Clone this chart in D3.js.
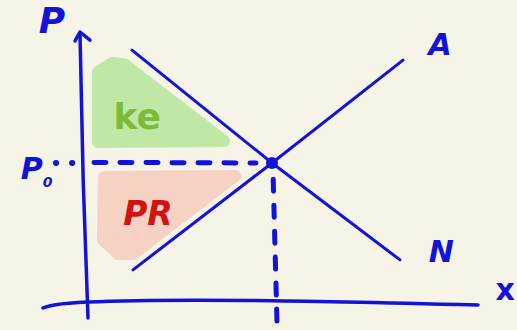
<!DOCTYPE html>
<html>
<head>
<meta charset="utf-8">
<script src="https://cdn.jsdelivr.net/npm/d3@7"></script>
<style>
  html, body { margin: 0; padding: 0; background: #f6f3e7; }
  svg { display: block; }
  text { font-family: "DejaVu Sans", sans-serif; font-weight: bold; }
</style>
</head>
<body>
<svg id="chart" width="517" height="330"></svg>
<script>
// ---- data (quantity q, price p) ----
const demandQ = [11, 46, 78];
const demandP = [93.3, 51.5, 15.6];
const supplyQ = [11.25, 46, 78.75];
const supplyP = [11.9, 51.5, 89.6];
const eqQ = 46;
const eqP = 51.5;
const consumerQ = [2.5, 6, 9, 34, 2.5];
const consumerP = [85.2, 88.5, 88.1, 59.6, 59.3];
const producerQ = [4, 36.75, 11.25, 7.5, 3.75];
const producerP = [46.3, 46.7, 17.8, 17.8, 23];
const yAxisQ = [-2, -1.2, 0];
const yAxisP = [99.3, 45, -5.9];
const arrowQ = [-3.25, -2, 0.5];
const arrowP = [96.7, 100, 97];
const xAxisQ = [-11.25, 0, 40, 97.5];
const xAxisP = [-2.2, 0, 0.6, -1.1];
const labels = ["P", "x", "A", "N", "ke", "PR", "P", "0"];

const svg = d3.select("#chart");
const x = d3.scaleLinear().domain([0, 100]).range([88, 488]);
const y = d3.scaleLinear().domain([0, 100]).range([302, 32]);
const blue = "#1212d8";

const zip = (qs, ps) => qs.map((q, i) => [x(q), y(ps[i])]);
const line = d3.line();
const smooth = d3.line().curve(d3.curveNatural);

// surplus areas
svg.append("path").attr("d", line(zip(consumerQ, consumerP)) + "Z")
  .attr("fill", "#bfe8a6").attr("stroke", "#bfe8a6")
  .attr("stroke-width", 12).attr("stroke-linejoin", "round");
svg.append("path").attr("d", line(zip(producerQ, producerP)) + "Z")
  .attr("fill", "#f5d2c3").attr("stroke", "#f5d2c3")
  .attr("stroke-width", 12).attr("stroke-linejoin", "round");

svg.append("text").attr("x", x(12.3)).attr("y", y(64)).attr("text-anchor", "middle")
  .attr("font-size", 36).attr("fill", "#7cba3c").text(labels[4]);
svg.append("text").attr("x", x(15)).attr("y", y(28.5)).attr("text-anchor", "middle")
  .attr("font-size", 33).attr("fill", "#d01212").attr("font-style", "italic").text(labels[5]);

// axes
svg.append("path").attr("d", smooth(zip(yAxisQ, yAxisP)))
  .attr("fill", "none").attr("stroke", blue).attr("stroke-width", 3.5).attr("stroke-linecap", "round");
svg.append("path").attr("d", line(zip(arrowQ, arrowP)))
  .attr("fill", "none").attr("stroke", blue).attr("stroke-width", 3.5)
  .attr("stroke-linecap", "round").attr("stroke-linejoin", "round");
svg.append("path").attr("d", smooth(zip(xAxisQ, xAxisP)))
  .attr("fill", "none").attr("stroke", blue).attr("stroke-width", 3.5).attr("stroke-linecap", "round");

// supply & demand
svg.append("path").attr("d", line(zip(demandQ, demandP)))
  .attr("fill", "none").attr("stroke", blue).attr("stroke-width", 3).attr("stroke-linecap", "round");
svg.append("path").attr("d", line(zip(supplyQ, supplyP)))
  .attr("fill", "none").attr("stroke", blue).attr("stroke-width", 3).attr("stroke-linecap", "round");

// guide lines
svg.append("line").attr("x1", x(-8)).attr("y1", y(eqP)).attr("x2", x(-2)).attr("y2", y(eqP))
  .attr("stroke", blue).attr("stroke-width", 6).attr("stroke-linecap", "round")
  .attr("stroke-dasharray", "0.1,16");
svg.append("line").attr("x1", x(1.5)).attr("y1", y(eqP + 0.2)).attr("x2", x(eqQ - 4)).attr("y2", y(eqP))
  .attr("stroke", blue).attr("stroke-width", 5).attr("stroke-linecap", "round")
  .attr("stroke-dasharray", "12,14");
svg.append("line").attr("x1", x(eqQ + 0.3)).attr("y1", y(eqP - 6)).attr("x2", x(eqQ + 1.3)).attr("y2", y(-10.5))
  .attr("stroke", blue).attr("stroke-width", 5).attr("stroke-linecap", "round")
  .attr("stroke-dasharray", "12,14");

// equilibrium point
svg.append("circle").attr("cx", x(eqQ)).attr("cy", y(eqP)).attr("r", 6).attr("fill", blue);

// axis labels
svg.append("text").attr("x", x(-9)).attr("y", y(99.5)).attr("text-anchor", "middle")
  .attr("font-size", 36).attr("font-style", "italic").attr("fill", blue).text(labels[0]);
svg.append("text").attr("x", x(104.3)).attr("y", y(0.8)).attr("text-anchor", "middle")
  .attr("font-size", 30).attr("fill", blue).text(labels[1]);
svg.append("text").attr("x", x(88)).attr("y", y(91.5)).attr("text-anchor", "middle")
  .attr("font-size", 30).attr("font-style", "italic").attr("fill", blue).text(labels[2]);
svg.append("text").attr("x", x(88.3)).attr("y", y(15)).attr("text-anchor", "middle")
  .attr("font-size", 30).attr("font-style", "italic").attr("fill", blue).text(labels[3]);
const p0 = svg.append("text").attr("x", x(-16.8)).attr("y", y(45.5))
  .attr("font-size", 30).attr("font-style", "italic").attr("fill", blue);
p0.append("tspan").text(labels[6]);
p0.append("tspan").attr("font-size", 14).attr("dy", 8).text(labels[7]);
</script>
</body>
</html>
